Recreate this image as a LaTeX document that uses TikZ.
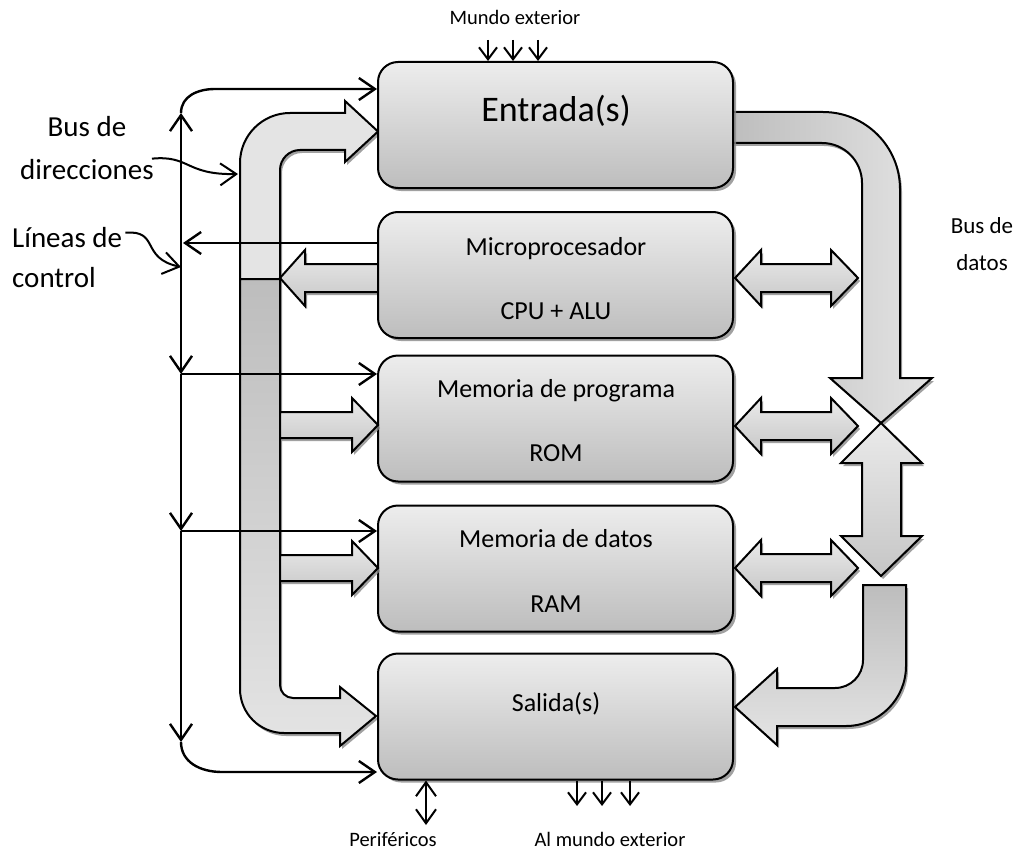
\documentclass[tikz,border=0pt]{standalone}
\usepackage{fontspec}
\setmainfont{Carlito}
\usetikzlibrary{arrows.meta,shadows}

\definecolor{boxtop}{HTML}{EDEDED}
\definecolor{boxbot}{HTML}{BDBDBD}
\definecolor{buslight}{HTML}{E4E4E4}
\definecolor{busdark}{HTML}{BDBDBD}
\definecolor{arrtop}{HTML}{EAEAEA}
\definecolor{arrbot}{HTML}{C6C6C6}
\definecolor{shade}{HTML}{8A8A8A}

\newcommand\szbig{\fontsize{36}{40}\selectfont}
\newcommand\szbox{\fontsize{26}{30}\selectfont}
\newcommand\szside{\fontsize{29}{32}\selectfont}
\newcommand\szdat{\fontsize{23}{26}\selectfont}
\newcommand\szsmall{\fontsize{20.5}{23}\selectfont}

\tikzset{
  unit/.style={draw, line width=2pt, rounded corners=20pt,
    minimum width=355pt, minimum height=126pt, inner sep=0pt,
    top color=boxtop, bottom color=boxbot,
    drop shadow={shadow xshift=3pt, shadow yshift=-3pt, fill=shade, opacity=.8}},
  blk/.style={draw, line width=2pt,
    drop shadow={shadow xshift=2pt, shadow yshift=-3pt, fill=shade, opacity=.8}},
  ctl/.style={line width=2.4pt, -{Straight Barb[length=16pt,width=22pt]}},
  io/.style={line width=2pt, -{Straight Barb[length=12pt,width=18pt]}},
  txt/.style={anchor=base, inner sep=0pt},
}

\begin{document}
\begin{tikzpicture}[x=1pt,y=-1pt]
\useasboundingbox (0,0) rectangle (1024,853);

% bus de direcciones
\draw[blk, fill=buslight]
  (240,279) -- (240,163) .. controls (240,135.4) and (262.4,113) .. (290,113)
  -- (345,113) -- (345,101) -- (378,131.5) -- (345,162) -- (345,150) -- (300,150)
  .. controls (289,150) and (280,159) .. (280,170) -- (280,279) -- cycle;
\draw[blk, top color=busdark, bottom color=buslight]
  (240,279) -- (240,689) .. controls (240,713.3) and (259.7,733) .. (284,733)
  -- (340,733) -- (340,746) -- (376,716) -- (340,687) -- (340,698) -- (293,698)
  .. controls (285.8,698) and (280,692.2) .. (280,685) -- (280,279) -- cycle;
\draw[blk, top color=arrtop, bottom color=arrbot]
  (380,264) -- (305,264) -- (305,250) -- (280,278) -- (305,306) -- (305,292)
  -- (380,292) -- cycle;

% bus de datos
\draw[blk, left color=busdark, right color=buslight]
  (730,112) -- (823,112) .. controls (865.5,112) and (900,146.5) .. (900,189)
  -- (900,378) -- (932,378) -- (881,423) -- (830,378) -- (862,378) -- (862,183)
  .. controls (862,160.9) and (844.1,143) .. (822,143) -- (730,143) -- cycle;

\node[unit] (ent) at (555.5,125) {};
\node[unit] (mic) at (555.5,275) {};
\node[unit] (rom) at (555.5,418.5) {};
\node[unit] (ram) at (555.5,568.5) {};
\node[unit] (sal) at (555.5,716.5) {};

\draw[blk, top color=arrtop, bottom color=arrbot]
  (280,412) -- (352,412) -- (352,398) -- (378,425) -- (352,452) -- (352,438)
  -- (280,438) -- cycle;
\draw[blk, top color=arrtop, bottom color=arrbot]
  (280,555) -- (352,555) -- (352,541) -- (378,568) -- (352,595) -- (352,581)
  -- (280,581) -- cycle;

\foreach \y in {278,426,568}
  \draw[blk, top color=arrtop, bottom color=arrbot]
    (735,\y) -- (761,\y-28) -- (761,\y-14) -- (831,\y-14) -- (831,\y-28)
    -- (858,\y) -- (831,\y+28) -- (831,\y+14) -- (761,\y+14) -- (761,\y+28) -- cycle;

\draw[blk, top color=arrtop, bottom color=arrbot]
  (881,423) -- (922,463) -- (901,463) -- (901,536) -- (922,536) -- (881,576)
  -- (841,536) -- (862,536) -- (862,463) -- (841,463) -- cycle;
\draw[blk, top color=busdark, bottom color=buslight]
  (863,585) -- (906,585) -- (906,666) .. controls (906,699.1) and (879.1,726) .. (846,726)
  -- (777,726) -- (777,745) -- (735,707) -- (777,669) -- (777,688) -- (835,688)
  .. controls (850.5,688) and (863,675.5) .. (863,660) -- cycle;

% lineas de control
\coordinate (ctop) at (181,113);
\coordinate (cl) at (181,267);
\coordinate (cr) at (181,374);
\coordinate (cd) at (181,531);
\coordinate (cs) at (181,742);
\draw[ctl] (cl) -- (ctop);
\draw[ctl] (ctop) .. controls (181,96) and (198,89) .. (215,89) -- (ent.west |- 0,89);
\draw[ctl] (mic.west |- 0,243) -- (183,243);
\draw[ctl] (cl) -- (cr);
\draw[ctl] (cr) -- (rom.west |- cr);
\draw[ctl] (cr) -- (cd);
\draw[ctl] (cd) -- (ram.west |- cd);
\draw[ctl] (cd) -- (cs);
\draw[ctl] (cs) .. controls (181,762) and (200,772) .. (222,772) -- (sal.west |- 0,772);

% textos
\node[txt, font=\szbig] (entT) at (556,122) {Entrada(s)};
\node[txt, font=\szbox] (micT) at (556,255) {Microprocesador};
\node[txt, font=\szbox] (cpuT) at (556,319) {CPU + ALU};
\node[txt, font=\szbox] (progT) at (556,397) {Memoria de programa};
\node[txt, font=\szbox] (romT) at (556,461) {ROM};
\node[txt, font=\szbox] (datT) at (556,547) {Memoria de datos};
\node[txt, font=\szbox] (ramT) at (556,612) {RAM};
\node[txt, font=\szbox] (salT) at (556,711) {Salida(s)};

\node[txt, font=\szside] (busT) at (87,137) {Bus de};
\node[txt, font=\szside] (dirT) at (87,179) {direcciones};
\node[txt, anchor=base west, font=\szside] (linT) at (12,247) {Líneas de};
\node[txt, anchor=base west, font=\szside] (conT) at (12,287) {control};
\node[txt, font=\szdat] (bdT) at (982,233) {Bus de};
\node[txt, font=\szdat] (daT) at (982,270) {datos};
\node[txt, font=\szsmall] (munT) at (515,25) {Mundo exterior};
\node[txt, font=\szsmall] (perT) at (393,846) {Periféricos};
\node[txt, font=\szsmall] (almT) at (610,846) {Al mundo exterior};

\coordinate (adr) at (238,174);
\draw[ctl, line width=2pt] ([shift={(-2,0)}]dirT.north east) .. controls (190,155) and (185,175) .. (adr);
\draw[ctl, line width=2pt] ([shift={(3,6)}]linT.north east) .. controls (160,230) and (140,258) .. (cl);

\foreach \x in {488,513,538}
  \draw[io] (\x,40) -- (ent.north -| \x,0);
\foreach \x in {577,602,630}
  \draw[io] (sal.south -| \x,0) -- (\x,806);
\draw[io, {Straight Barb[length=14pt,width=20pt]}-{Straight Barb[length=14pt,width=20pt]}]
  (sal.south -| 426,0) -- (426,825);
\end{tikzpicture}
\end{document}
